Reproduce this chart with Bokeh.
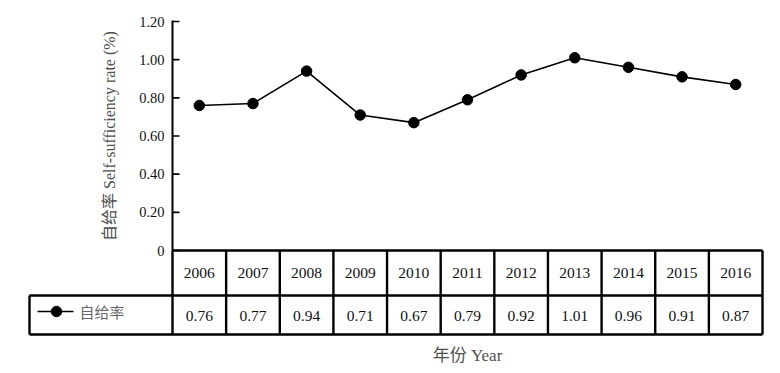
import math
from bokeh.plotting import figure
from bokeh.models import Range1d, ColumnDataSource
from bokeh.embed import file_html
from bokeh.resources import INLINE
from bokeh.core.properties import value

# ---------------- data ----------------
years = ["2006", "2007", "2008", "2009", "2010", "2011", "2012", "2013", "2014", "2015", "2016"]
rates = [0.76, 0.77, 0.94, 0.71, 0.67, 0.79, 0.92, 1.01, 0.96, 0.91, 0.87]
y_ticks = [0, 0.2, 0.4, 0.6, 0.8, 1.0, 1.2]
y_tick_labels = ["0", "0.20", "0.40", "0.60", "0.80", "1.00", "1.20"]
series_name = "自给率"
y_title = "自给率 Self-sufficiency rate (%)"
x_title = "年份 Year"

# ---------------- layout (pixels) ----------------
W, H = 780, 373
AX_X = 172        # y axis / table start
RIGHT = 762       # table right edge
TABLE_LEFT = 29   # legend cell left edge
Y0_PX = 250       # value 0
YTOP_PX = 21      # value 1.2
ROW1_PX = 295
ROW2_PX = 334
YMAX = 1.2

n = len(years)
colw = (RIGHT - AX_X) / n
ppu = (Y0_PX - YTOP_PX) / YMAX


def dx(px):
    return (px - AX_X) / colw


def dy(py):
    return (Y0_PX - py) / ppu


SERIF = value("'Liberation Serif', 'Noto Sans CJK SC'")
MIX = value("'Liberation Serif', 'Noto Sans CJK SC'")
CJK = value("'Noto Sans CJK SC'")

p = figure(width=W, height=H,
           x_range=Range1d(dx(0), dx(W)), y_range=Range1d(dy(H), dy(0)),
           x_axis_type=None, y_axis_type=None,
           toolbar_location=None, output_backend="svg",
           min_border=0, outline_line_color=None)
p.background_fill_color = "white"
p.border_fill_color = "white"

# ---- axis line and ticks ----
p.segment(x0=[0], y0=[dy(20)], x1=[0], y1=[0], line_color="black", line_width=2)
p.segment(x0=[0] * len(y_ticks), y0=y_ticks, x1=[dx(AX_X + 7)] * len(y_ticks), y1=y_ticks,
          line_color="black", line_width=1.6)
p.text(x=[dx(164)] * len(y_ticks), y=y_ticks, text=y_tick_labels,
       text_align="right", text_baseline="middle", text_font=SERIF,
       text_font_size="14.5px", text_color="#111111")

# y title
p.text(x=[dx(109)], y=[YMAX / 2], text=[y_title], angle=math.pi / 2,
       text_align="center", text_baseline="middle", text_font=MIX,
       text_font_size="16px", text_color="#505050")

# ---- data series ----
xs = [i + 0.5 for i in range(n)]
src = ColumnDataSource(dict(x=xs, y=rates))
p.line("x", "y", source=src, line_color="black", line_width=1.6)
p.scatter("x", "y", source=src, size=10.5, fill_color="black", line_color="black")

# ---- data table ----
tw = 2.4
# horizontal lines
p.segment(x0=[0, dx(TABLE_LEFT), dx(TABLE_LEFT)], y0=[0, dy(ROW1_PX), dy(ROW2_PX)],
          x1=[n, n, n], y1=[0, dy(ROW1_PX), dy(ROW2_PX)],
          line_color="black", line_width=tw)
# vertical lines
vx = list(range(n + 1))
p.segment(x0=vx, y0=[0] * len(vx), x1=vx, y1=[dy(ROW2_PX)] * len(vx),
          line_color="black", line_width=tw)
p.segment(x0=[dx(TABLE_LEFT)], y0=[dy(ROW1_PX)], x1=[dx(TABLE_LEFT)], y1=[dy(ROW2_PX)],
          line_color="black", line_width=tw)

p.text(x=xs, y=[dy(272.5)] * n, text=years, text_align="center", text_baseline="middle",
       text_font=SERIF, text_font_size="15.5px", text_color="#111111")
p.text(x=xs, y=[dy(315)] * n, text=["%.2f" % v for v in rates], text_align="center",
       text_baseline="middle", text_font=SERIF, text_font_size="15.5px", text_color="#111111")

# legend cell
p.segment(x0=[dx(37)], y0=[dy(311)], x1=[dx(73)], y1=[dy(311)], line_color="black", line_width=1.6)
p.scatter(x=[dx(56)], y=[dy(311)], size=10.5, fill_color="black", line_color="black")
p.text(x=[dx(79)], y=[dy(311)], text=[series_name], text_align="left", text_baseline="middle",
       text_font=CJK, text_font_size="15px", text_color="#666666")

# x title
p.text(x=[n / 2], y=[dy(355)], text=[x_title], text_align="center", text_baseline="middle",
       text_font=MIX, text_font_size="17px", text_color="#505050")

open("out.html", "w").write(file_html(p, INLINE))
